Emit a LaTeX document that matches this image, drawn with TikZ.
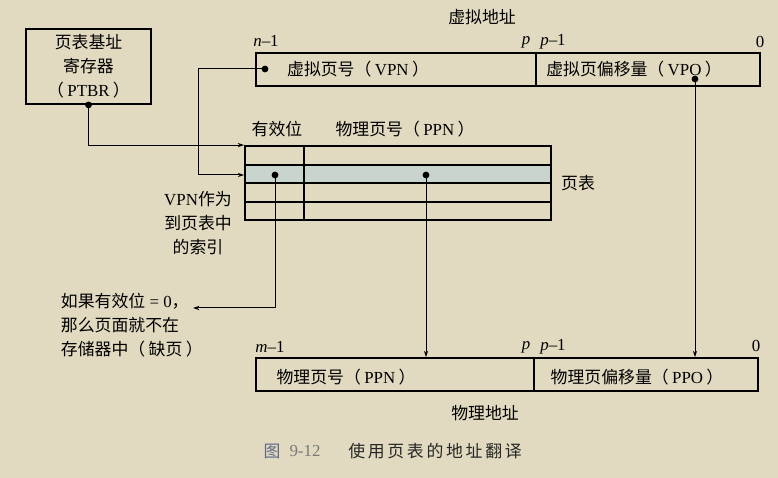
\documentclass[tikz,border=0pt]{standalone}
\usepackage{fontspec}
\setmainfont{Liberation Serif}
\newfontfamily\cjk{Noto Sans CJK SC}
\usetikzlibrary{arrows.meta}
\definecolor{paper}{RGB}{225,218,192}
\definecolor{hilite}{RGB}{202,212,206}
\definecolor{capblue}{RGB}{95,105,135}
\definecolor{capgray}{RGB}{120,120,120}
\newcommand{\zh}[1]{{\cjk #1}}
\newcommand{\lp}{{\cjk （}\hspace{0.2em}}
\newcommand{\rp}{\hspace{0.2em}{\cjk ）}}
\tikzset{
  field/.style={draw, line width=1.3pt, minimum height=0.825cm, inner sep=0pt},
  conn/.style={line width=0.7pt, -{Stealth[length=4.5pt,width=3pt]}},
  dotmark/.style={circle, fill, inner sep=0pt, minimum size=0.17cm},
}
\begin{document}
\begin{tikzpicture}[x=0.025cm, y=0.025cm, font=\fontsize{12}{17}\selectfont]
    \fill[paper] (0,0) rectangle (778,478);
    \useasboundingbox (0,0) rectangle (778,478);

    % 页表基址寄存器
    \node[draw, line width=1.3pt, minimum width=3.125cm, minimum height=1.875cm, align=center] (ptbr) at (88.5,411.5) {\zh{页表基址}\\\zh{寄存器}\\\lp PTBR\rp};

    % 虚拟地址
    \node (va) at (482,461) {\zh{虚拟地址}};
    \node[field, minimum width=7cm] (vpn) at (396,408.5) {};
    \node[field, minimum width=5.6cm] (vpo) at (648,408.5) {};
    \node (vpnt) at (358,409) {\zh{虚拟页号}\lp VPN\rp};
    \node (vpot) at (634,409) {\zh{虚拟页偏移量}\lp VPO\rp};
    \node (vn) at (266,437) {\textit{n}–1};
    \node (vp) at (526,436) {\textit{p}};
    \node (vp1) at (553,436) {\textit{p}–1};
    \node (v0) at (760,436) {0};

    % 页表
    \fill[hilite] (245,295) rectangle (551,313);
    \node[draw, line width=1.3pt, minimum width=7.65cm, minimum height=1.85cm, inner sep=0pt] (pt) at (398,295) {};
    \foreach \y in {313,295,276}
        \draw[line width=1.3pt] (pt.west |- 0,\y) -- (pt.east |- 0,\y);
    \draw[line width=1.3pt] (304,258) -- (304,332);
    \node (valid) at (277,349) {\zh{有效位}};
    \node (ppnhead) at (405,349) {\zh{物理页号}\lp PPN\rp};
    \node (ptname) at (578,295) {\zh{页表}};
    \node[align=center] (index) at (198,255) {VPN\zh{作为}\\\zh{到页表中}\\\zh{的索引}};

    % 物理地址
    \node[field, minimum width=6.95cm] (ppn) at (395,103.5) {};
    \node[field, minimum width=5.6cm] (ppo) at (646,103.5) {};
    \node (ppnt) at (346,101) {\zh{物理页号}\lp PPN\rp};
    \node (ppot) at (637,101) {\zh{物理页偏移量}\lp PPO\rp};
    \node (pm) at (270,131) {\textit{m}–1};
    \node (pp) at (526,131) {\textit{p}};
    \node (pp1) at (553,131) {\textit{p}–1};
    \node (p0) at (756,132) {0};
    \node (pa) at (485,65) {\zh{物理地址}};

    % 缺页
    \node[anchor=west, align=left] (note) at (56,153) {\zh{如果有效位} = 0\zh{，}\\\zh{那么页面就不在}\\\zh{存储器中}\lp\zh{缺页}\rp};

    % 圆点
    \node[dotmark] (ptdot) at (ptbr.south) {};
    \node[dotmark] (vdot) at (265,409) {};
    \node[dotmark] (odot) at (695,399) {};
    \node[dotmark] (vbit) at (275,303) {};
    \node[dotmark] (pdot) at (426,303) {};

    % 连线
    \coordinate (vturn) at (198,409);
    \coordinate (miss) at (193,170);
    \draw[conn] (ptdot.center) |- (pt.north west);
    \draw[conn] (vdot.center) -- (vturn) |- (pt.west |- vbit);
    \draw[conn] (vbit.center) |- (miss);
    \draw[conn] (pdot.center) -- (pdot |- ppn.north);
    \draw[conn] (odot.center) -- (odot |- ppo.north);

    % 图题
    \node[capblue] (fig) at (272,27) {\zh{图}};
    \node[capgray] (fignum) at (305,27) {9-12};
    \node[black!85] (cap) at (435,27) {\zh{\addfontfeature{LetterSpace=16}使用页表的地址翻译}};
\end{tikzpicture}
\end{document}
